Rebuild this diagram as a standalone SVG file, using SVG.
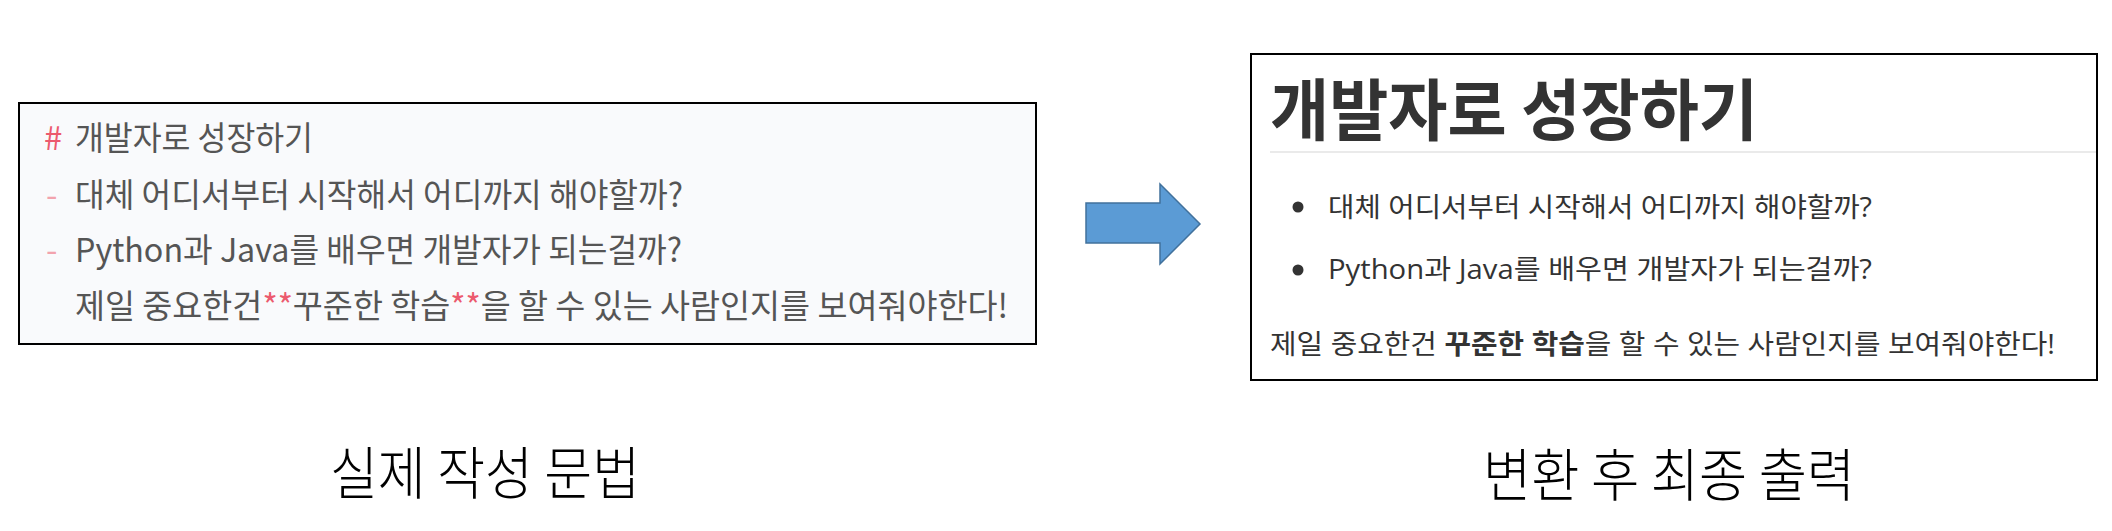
<svg xmlns="http://www.w3.org/2000/svg" width="2112" height="531" viewBox="0 0 2112 531">
<style>
.src{font-family:"Noto Sans CJK KR","Noto Sans",sans-serif;font-size:33px;fill:#555}
.pk{fill:#ec5a6e}
.dash{fill:#f2a3ad}
.out{font-family:"Open Sans","Noto Sans CJK KR",sans-serif;font-size:27px;fill:#333}
.h1{font-family:"Noto Sans CJK KR",sans-serif;font-weight:700;font-size:67px;fill:#333}
.cap{font-family:"Noto Sans CJK KR",sans-serif;font-weight:300;font-size:57px;fill:#000}
.box{stroke:#000;stroke-width:2}
</style>
<rect width="2112" height="531" fill="#fff"/>
<g id="source">
<rect class="box" x="19" y="103" width="1017" height="241" fill="#f9fafc"/>
<text class="src" x="44" y="150"><tspan class="pk">#</tspan></text>
<text class="src" x="75" y="150" textLength="238" lengthAdjust="spacingAndGlyphs">개발자로 성장하기</text>
<text class="src dash" x="46" y="207">-</text>
<text class="src" x="75" y="207" textLength="608" lengthAdjust="spacingAndGlyphs">대체 어디서부터 시작해서 어디까지 해야할까?</text>
<text class="src dash" x="46" y="262">-</text>
<text class="src" x="75" y="262" textLength="607" lengthAdjust="spacingAndGlyphs">Python과 Java를 배우면 개발자가 되는걸까?</text>
<text class="src" x="75" y="318" textLength="933" lengthAdjust="spacingAndGlyphs">제일 중요한건<tspan class="pk">**</tspan>꾸준한 학습<tspan class="pk">**</tspan>을 할 수 있는 사람인지를 보여줘야한다!</text>
</g>
<g id="connectors">
<path d="M1086,203 H1160 V184 L1200,224 L1160,264 V243 H1086 Z" fill="#5b9bd5" stroke="#41719c" stroke-width="1.5"/>
</g>
<g id="output">
<rect class="box" x="1251" y="54" width="846" height="326" fill="#fff"/>
<text class="h1" x="1270" y="135" textLength="488" lengthAdjust="spacingAndGlyphs">개발자로 성장하기</text>
<line x1="1270" y1="152" x2="2096" y2="152" stroke="#eaeaea" stroke-width="2"/>
<circle cx="1298" cy="207" r="5.5" fill="#333"/>
<text class="out" x="1328" y="217" textLength="544" lengthAdjust="spacingAndGlyphs">대체 어디서부터 시작해서 어디까지 해야할까?</text>
<circle cx="1298" cy="270" r="5.5" fill="#333"/>
<text class="out" x="1328" y="279" textLength="544" lengthAdjust="spacingAndGlyphs">Python과 Java를 배우면 개발자가 되는걸까?</text>
<text class="out" x="1270" y="354" textLength="785" lengthAdjust="spacingAndGlyphs">제일 중요한건 <tspan font-weight="700">꾸준한 학습</tspan>을 할 수 있는 사람인지를 보여줘야한다!</text>
</g>
<g id="caption-source">
<text class="cap" x="330" y="494" textLength="310" lengthAdjust="spacingAndGlyphs">실제 작성 문법</text>
</g>
<g id="caption-output">
<text class="cap" x="1483" y="496" textLength="372" lengthAdjust="spacingAndGlyphs">변환 후 최종 출력</text>
</g>
</svg>
